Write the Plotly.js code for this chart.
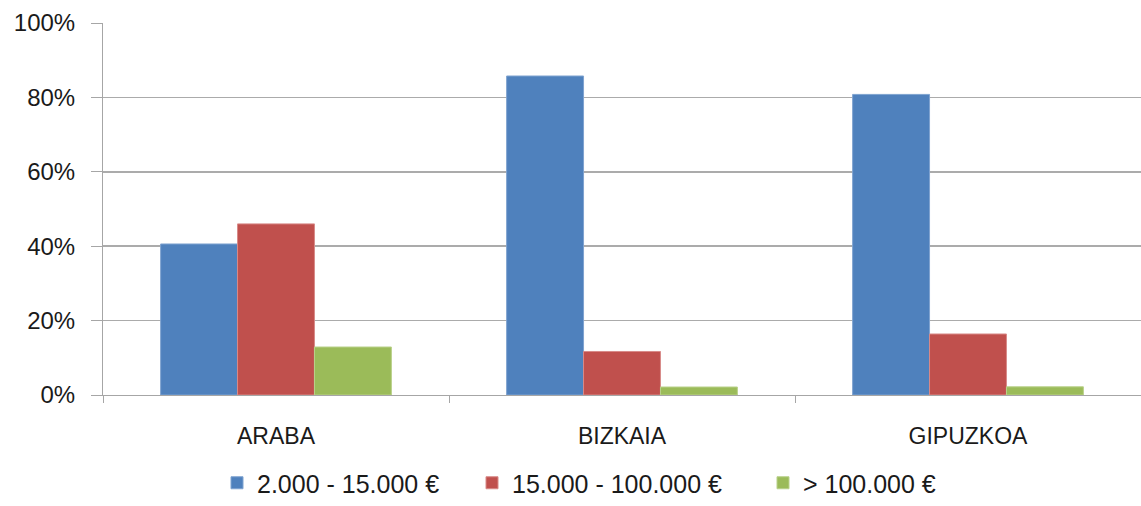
<!DOCTYPE html>
<html><head><meta charset="utf-8">
<script src="https://cdn.plot.ly/plotly-3.0.1.min.js"></script>
<style>html,body{margin:0;padding:0;background:#fff}#chart{width:1141px;height:506px}</style>
</head><body><div id="chart"></div>
<script>
const categories = ["ARABA", "BIZKAIA", "GIPUZKOA"];
const seriesNames = ["2.000 - 15.000 €", "15.000 - 100.000 €", "> 100.000 €"];
const low = [0.406, 0.8575, 0.808];
const mid = [0.460, 0.117, 0.164];
const high = [0.129, 0.0215, 0.022];
const colors = ["#4F81BD", "#C0504D", "#9BBB59"];
const edges = ["#7FA3D0", "#D88A88", "#B9D18A"];
const tickVals = [0, 0.2, 0.4, 0.6, 0.8, 1.0];
const tickText = ["0%", "20%", "40%", "60%", "80%", "100%"];

const legendIds = ["legend", "legend2", "legend3"];
const legendX = [217, 472, 763];

const values = [low, mid, high];
const traces = values.map((v, i) => ({
  type: "bar", x: categories, y: v, name: seriesNames[i], legend: legendIds[i],
  marker: {color: colors[i], line: {color: edges[i], width: 1}},
  hoverinfo: "x+y"
}));

const axFont = {family: "Liberation Sans, Arial, sans-serif", size: 23, color: "#1a1a1a"};
const yFont = {family: "Liberation Sans, Arial, sans-serif", size: 24, color: "#1a1a1a"};
const legFont = {family: "Liberation Sans, Arial, sans-serif", size: 25, color: "#1a1a1a"};

const layout = {
  width: 1141, height: 506,
  margin: {l: 103, r: 0, t: 23, b: 111},
  paper_bgcolor: "#fff", plot_bgcolor: "#fff",
  font: axFont,
  barmode: "group", bargap: 0.333, bargroupgap: 0,
  showlegend: true,
  xaxis: {type: "category", showgrid: false, showline: true, linecolor: "#A6A6A6", linewidth: 1,
          ticks: "outside", tickson: "boundaries", ticklen: 7, tickcolor: "#A6A6A6",
          ticklabelstandoff: 20, tickfont: axFont},
  yaxis: {range: [0, 1.0], tickvals: tickVals, ticktext: tickText, showgrid: true,
          gridcolor: "#ABABAB", gridwidth: 1.5, showline: true, linecolor: "#A6A6A6", linewidth: 1,
          ticks: "outside", ticklen: 11, tickcolor: "#A6A6A6", ticklabelstandoff: 11,
          zeroline: false, tickfont: yFont}
};
legendIds.forEach((id, i) => {
  layout[id] = {orientation: "h", xref: "container", yref: "container",
                x: legendX[i] / 1141, xanchor: "left", y: 0, yanchor: "bottom",
                font: legFont, bgcolor: "rgba(0,0,0,0)"};
});

Plotly.newPlot("chart", traces, layout, {displayModeBar: false, staticPlot: true});
</script></body></html>
